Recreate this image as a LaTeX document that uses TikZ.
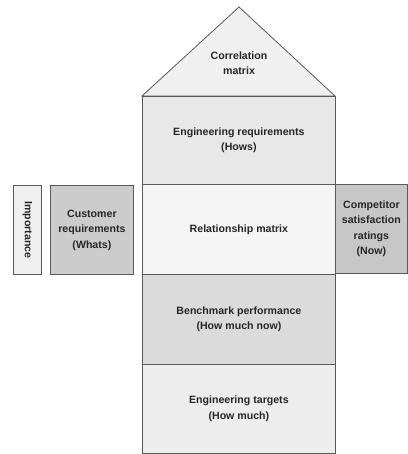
\documentclass[tikz,border=0pt]{standalone}
\usepackage{fontspec}
\setmainfont{Liberation Sans}
\begin{document}
\begin{tikzpicture}[x=1pt,y=-1pt,
  lbl/.style={font=\bfseries\fontsize{10.6}{15.5}\selectfont, text=black!85, align=center, inner sep=0pt},
  box/.style={lbl, draw=black!65, line width=0.8pt},
]
\useasboundingbox (0,0) rectangle (407,454);
% roof
\filldraw[fill=black!6, draw=black!65, line width=0.8pt] (142,96) -- (239,7) -- (335,96) -- cycle;
\node[lbl] (corr) at (239,63) {Correlation\\matrix};
% column
\node[box, fill=black!9, minimum width=193pt, minimum height=88pt, anchor=north west] (eng) at (142,96) {Engineering requirements\\(Hows)};
\node[box, fill=black!4, minimum width=193pt, minimum height=90pt, anchor=north west] (rel) at (142,184) {Relationship matrix};
\node[box, fill=black!14, minimum width=193pt, minimum height=90pt, anchor=north west] (bench) at (142,274) {Benchmark performance\\(How much now)};
\node[box, fill=black!7, minimum width=193pt, minimum height=89pt, anchor=north west] (targ) at (142,364) {Engineering targets\\(How much)};
% side boxes
\node[box, fill=black!6, minimum width=28pt, minimum height=89pt, anchor=north west] (imp) at (13,185) {};
\node[lbl, rotate=-90] (impt) at (imp.center) {Importance};
\node[box, fill=black!20, minimum width=83pt, minimum height=89pt, anchor=north west] (cust) at (50,185) {Customer\\requirements\\(Whats)};
\node[box, fill=black!22, minimum width=72pt, minimum height=89pt, anchor=north west] (comp) at (335,184) {Competitor\\satisfaction\\ratings\\(Now)};
\end{tikzpicture}
\end{document}
